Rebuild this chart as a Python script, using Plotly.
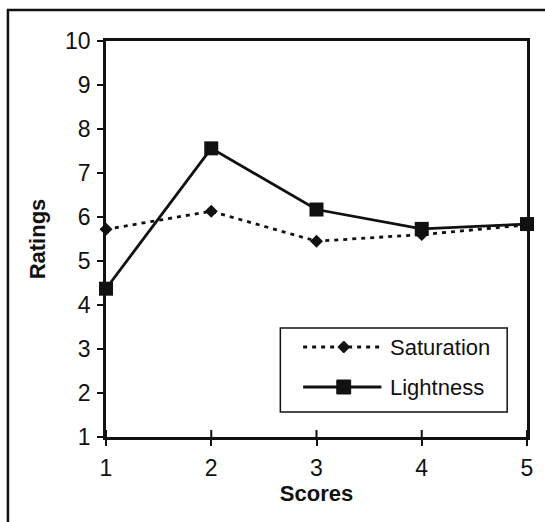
import plotly.graph_objects as go

# Mean ratings per score level
scores = [1, 2, 3, 4, 5]
saturation = [5.72, 6.13, 5.45, 5.60, 5.82]
lightness = [4.37, 7.56, 6.17, 5.73, 5.84]
y_ticks = list(range(1, 11))
series_names = ["Saturation", "Lightness"]

W, H = 545, 522
L, R, T, B = 106, 531, 41, 437  # plot area edges in pixels
INK = "#111111"
FONT = "Liberation Sans, Arial, Helvetica, sans-serif"


def fx(px):
    return (px - L) / (R - L)


def fy(py):
    return (B - py) / (B - T)


fig = go.Figure()
fig.add_trace(go.Scatter(
    x=scores, y=saturation, mode="lines+markers", name=series_names[0],
    line=dict(color=INK, width=2.8, dash="4px,5px"),
    marker=dict(symbol="diamond", size=10, color=INK),
    cliponaxis=False, showlegend=False,
))
fig.add_trace(go.Scatter(
    x=scores, y=lightness, mode="lines+markers", name=series_names[1],
    line=dict(color=INK, width=2.8),
    marker=dict(symbol="square", size=14, color=INK),
    cliponaxis=False, showlegend=False,
))

shapes = []
# inner halves of the x ticks (ticks cross the axis line)
for v in scores:
    shapes.append(dict(type="line", xref="x", yref="paper", x0=v, x1=v,
                       y0=0, y1=7 / (B - T), line=dict(color=INK, width=2)))

# outer frame (left and top edges)
shapes.append(dict(type="path", xref="paper", yref="paper",
                   path=f"M {fx(7)},{fy(530)} L {fx(7)},{fy(10)} L {fx(550)},{fy(10)}",
                   line=dict(color=INK, width=2.5)))

# legend box
shapes.append(dict(type="rect", xref="paper", yref="paper",
                   x0=fx(282), x1=fx(511), y0=fy(412), y1=fy(328),
                   line=dict(color=INK, width=1.5), fillcolor="white", layer="above"))
# legend samples
shapes.append(dict(type="line", xref="paper", yref="paper",
                   x0=fx(305), x1=fx(384), y0=fy(347), y1=fy(347),
                   line=dict(color=INK, width=2.8, dash="4px,5px"), layer="above"))
d = 6
shapes.append(dict(type="path", xref="paper", yref="paper",
                   path=(f"M {fx(346 - d)},{fy(347)} L {fx(346)},{fy(347 - d)} "
                         f"L {fx(346 + d)},{fy(347)} L {fx(346)},{fy(347 + d)} Z"),
                   line=dict(color=INK, width=1), fillcolor=INK, layer="above"))
shapes.append(dict(type="line", xref="paper", yref="paper",
                   x0=fx(305), x1=fx(384), y0=fy(387), y1=fy(387),
                   line=dict(color=INK, width=2.8), layer="above"))
s = 7
shapes.append(dict(type="rect", xref="paper", yref="paper",
                   x0=fx(346 - s), x1=fx(346 + s), y0=fy(387 + s), y1=fy(387 - s),
                   line=dict(color=INK, width=1), fillcolor=INK, layer="above"))

annotations = [
    dict(text=series_names[0], xref="paper", yref="paper", x=fx(391), y=fy(347),
         xanchor="left", yanchor="middle", showarrow=False,
         font=dict(family=FONT, size=22, color=INK)),
    dict(text=series_names[1], xref="paper", yref="paper", x=fx(391), y=fy(387),
         xanchor="left", yanchor="middle", showarrow=False,
         font=dict(family=FONT, size=22, color=INK)),
]

axis_common = dict(
    showline=True, linecolor=INK, linewidth=2.5, mirror=True,
    showgrid=False, zeroline=False,
    ticks="outside", ticklen=6, tickwidth=2, tickcolor=INK,
    tickfont=dict(family=FONT, size=23, color=INK),
)

fig.update_layout(
    width=W, height=H,
    margin=dict(l=L, r=W - R, t=T, b=H - B),
    paper_bgcolor="white", plot_bgcolor="white",
    font=dict(family=FONT, color=INK),
    xaxis=dict(range=[1, 5], tickvals=scores, ticklabelstandoff=3,
               title=dict(text="Scores", standoff=0,
                          font=dict(family=FONT, size=22, weight="bold", color=INK)),
               **axis_common),
    yaxis=dict(range=[1, 10], tickvals=y_ticks, ticklabelstandoff=2,
               title=dict(text="Ratings", standoff=14,
                          font=dict(family=FONT, size=22, weight="bold", color=INK)),
               **axis_common),
    shapes=shapes,
    annotations=annotations,
)

fig.write_html("out.html")
